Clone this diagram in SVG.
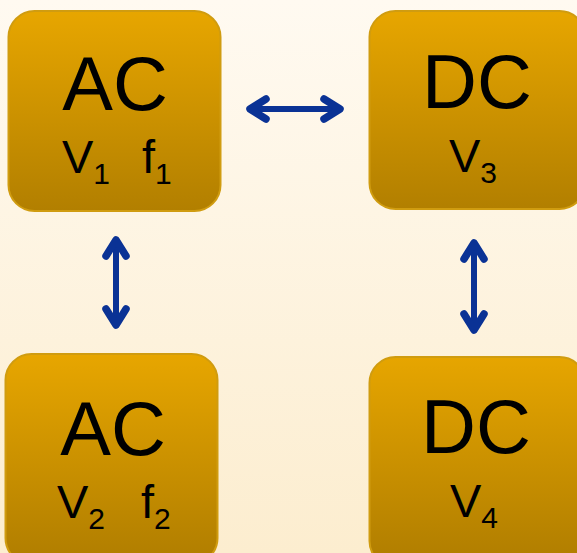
<svg xmlns="http://www.w3.org/2000/svg" width="577" height="553" viewBox="0 0 577 553">
<defs>
<linearGradient id="bg" x1="0" y1="0" x2="0" y2="1">
<stop offset="0" stop-color="#FFFAF1"/>
<stop offset="1" stop-color="#FCEDCF"/>
</linearGradient>
<linearGradient id="box" x1="0" y1="0" x2="0" y2="1">
<stop offset="0" stop-color="#E7A600"/>
<stop offset="1" stop-color="#B27F00"/>
</linearGradient>
<linearGradient id="box2" gradientUnits="userSpaceOnUse" x1="0" y1="354" x2="0" y2="554">
<stop offset="0" stop-color="#E7A600"/>
<stop offset="1" stop-color="#B27F00"/>
</linearGradient>
</defs>
<style>
.box{fill:url(#box);stroke:#D09C10;stroke-width:2}
.boxb{fill:url(#box2);stroke:#D09C10;stroke-width:2}
.big{font-family:"Liberation Sans",Arial,sans-serif;font-size:76px;fill:#000;text-anchor:middle}
.sm{font-family:"Liberation Sans",Arial,sans-serif;font-size:47px;fill:#000}
.sub{font-size:30px}
.conn{stroke:#0A3295;stroke-width:6;fill:none;stroke-linecap:round;stroke-linejoin:round}
.head{stroke:#0A3295;stroke-width:7.5;fill:none;stroke-linecap:round;stroke-linejoin:round}
</style>
<rect x="0" y="0" width="577" height="553" fill="url(#bg)"/>
<g id="ac1">
<rect class="box" x="8.5" y="11" width="212" height="200" rx="26"/>
<text class="big" x="115" y="110">AC</text>
<text class="sm" x="62" y="173">V<tspan class="sub" dy="11">1</tspan><tspan x="142" dy="-11">f</tspan><tspan class="sub" dy="11">1</tspan></text>
</g>
<g id="dc3">
<rect class="box" x="369.5" y="11" width="216" height="198" rx="26"/>
<text class="big" x="477" y="108">DC</text>
<text class="sm" x="449" y="172">V<tspan class="sub" dy="11">3</tspan></text>
</g>
<g id="ac2">
<rect class="boxb" x="5.5" y="354" width="212" height="210" rx="26"/>
<text class="big" x="113" y="455">AC</text>
<text class="sm" x="57" y="518">V<tspan class="sub" dy="11">2</tspan><tspan x="141" dy="-11">f</tspan><tspan class="sub" dy="11">2</tspan></text>
</g>
<g id="dc4">
<rect class="boxb" x="369.5" y="357" width="216" height="210" rx="26"/>
<text class="big" x="476" y="453">DC</text>
<text class="sm" x="450" y="517">V<tspan class="sub" dy="11">4</tspan></text>
</g>
<g id="connectors">
<path class="conn" d="M252 109 H338"/>
<path class="head" d="M266 99 L250 109 L266 119 M324 99 L340 109 L324 119"/>
<path class="conn" d="M116 242 V323"/>
<path class="head" d="M106 256 L116 240 L126 256 M106 309 L116 325 L126 309"/>
<path class="conn" d="M474 245 V328"/>
<path class="head" d="M464 259 L474 243 L484 259 M464 314 L474 330 L484 314"/>
</g>
</svg>
